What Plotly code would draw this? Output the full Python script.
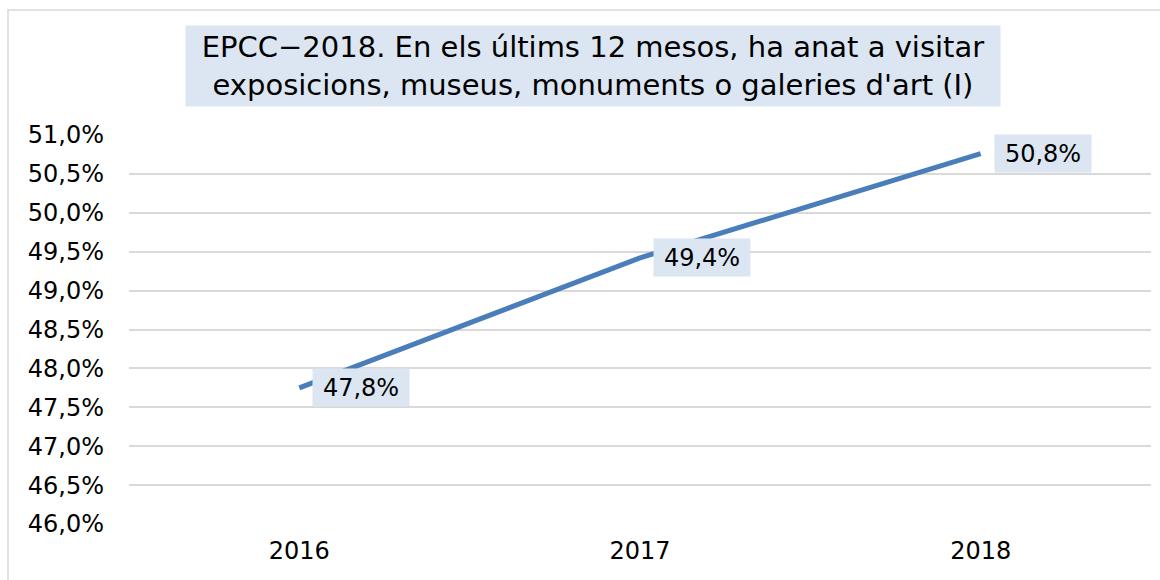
import plotly.graph_objects as go

years = ["2016", "2017", "2018"]
values = [47.75, 49.42, 50.76]
labels = ["47,8%", "49,4%", "50,8%"]
y_ticks = [46.0, 46.5, 47.0, 47.5, 48.0, 48.5, 49.0, 49.5, 50.0, 50.5, 51.0]
y_tick_text = ["46,0%", "46,5%", "47,0%", "47,5%", "48,0%", "48,5%", "49,0%", "49,5%", "50,0%", "50,5%", "51,0%"]
title_text = "EPCC\u22122018. En els últims 12 mesos, ha anat a visitar<br>exposicions, museus, monuments o galeries d'art (I)"

FONT = "DejaVu Sans"
L, R, T, B = 129, 9, 135, 56
W, H = 1160, 580
pw = W - L - R
ph = H - T - B

def px(x):
    return (x - L) / pw

def py(y):
    return (H - B - y) / ph

fig = go.Figure()
fig.add_trace(go.Scatter(
    x=years, y=values, mode="lines",
    line=dict(color="#4a7ebb", width=5),
    hoverinfo="skip", showlegend=False,
))

for i, (v, lab) in enumerate(zip(values, labels)):
    fig.add_annotation(
        x=i, y=v, text=lab, showarrow=False,
        xanchor="left", yanchor="middle", xshift=13,
        bgcolor="#dce6f2", borderpad=2, width=92, height=33, align="center",
        font=dict(family=FONT, size=24, color="#000000"),
    )

fig.add_annotation(
    xref="paper", yref="paper", x=px(593), y=py(66),
    text=title_text, showarrow=False, xanchor="center", yanchor="middle",
    bgcolor="#dce6f2", borderpad=2, width=810, height=76, align="center",
    font=dict(family=FONT, size=29, color="#000000"),
)

fig.add_shape(
    type="rect", xref="paper", yref="paper",
    x0=px(8), x1=px(1175), y0=py(590), y1=py(10),
    line=dict(color="#d9d9d9", width=1.5), fillcolor="rgba(0,0,0,0)", layer="below",
)

fig.update_layout(
    width=W, height=H,
    margin=dict(l=L, r=R, t=T, b=B),
    paper_bgcolor="white", plot_bgcolor="white",
    font=dict(family=FONT, size=24, color="#000000"),
    xaxis=dict(
        type="category", range=[-0.5, 2.5], showgrid=False, showline=False,
        ticks="", ticklabelstandoff=10, tickfont=dict(family=FONT, size=24),
    ),
    yaxis=dict(
        range=[46, 51], tickvals=y_ticks, ticktext=y_tick_text,
        showgrid=True, gridcolor="#d9d9d9", gridwidth=1.5, zeroline=False,
        showline=False, ticks="", ticklabelstandoff=24,
        tickfont=dict(family=FONT, size=24),
    ),
)

fig.write_html(
    "out.html",
    config={"displayModeBar": False},
    post_script="document.body.style.margin='0';document.body.style.overflow='hidden';",
)
